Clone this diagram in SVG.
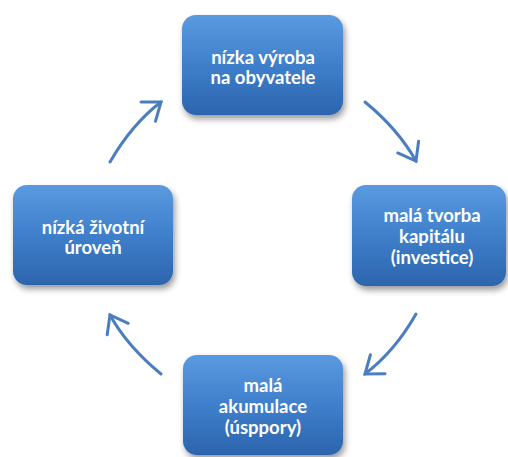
<svg xmlns="http://www.w3.org/2000/svg" width="508" height="457" viewBox="0 0 508 457">
<defs>
<linearGradient id="g" x1="0" y1="0" x2="0" y2="1">
<stop offset="0" stop-color="#5a9ae0"/>
<stop offset="0.5" stop-color="#3f7fcb"/>
<stop offset="1" stop-color="#2c64ad"/>
</linearGradient>
<filter id="sh" x="-20%" y="-20%" width="140%" height="150%">
<feDropShadow dx="2" dy="4" stdDeviation="3" flood-color="#000" flood-opacity="0.4"/>
</filter>
<marker id="ah" markerUnits="userSpaceOnUse" markerWidth="40" markerHeight="40" refX="0" refY="0" viewBox="-20 -20 40 40" orient="auto" overflow="visible">
<path d="M-16,-12 L0,0 L-16,12" fill="none" stroke="#4a7ebf" stroke-width="3" stroke-linecap="round" stroke-linejoin="miter"/>
</marker>
</defs>
<style>
.box{fill:url(#g);filter:url(#sh);}
.t{font-family:Lato,"Liberation Sans",sans-serif;font-weight:bold;font-size:18.5px;fill:#fff;text-anchor:middle;}
.c{fill:none;stroke:#4a7ebf;stroke-width:3;stroke-linecap:round;marker-end:url(#ah);}
</style>
<g id="connectors">
<path class="c" d="M110,162 Q132,124 161,102"/>
<path class="c" d="M365,102 Q398,129 416,161"/>
<path class="c" d="M416,314 Q395,351 365,374"/>
<path class="c" d="M161,374 Q127,346 110,315"/>
</g>
<g id="n1">
<rect class="box" x="182" y="15" width="161" height="100" rx="14"/>
<text class="t" x="263" y="64">nízka výroba</text>
<text class="t" x="263" y="84">na obyvatele</text>
</g>
<g id="n2">
<rect class="box" x="352" y="185" width="154" height="101" rx="14"/>
<text class="t" x="432" y="222">malá tvorba</text>
<text class="t" x="432" y="243">kapitálu</text>
<text class="t" x="432" y="264">(investice)</text>
</g>
<g id="n3">
<rect class="box" x="183" y="355" width="160" height="100" rx="14"/>
<text class="t" x="263" y="392">malá</text>
<text class="t" x="263" y="413">akumulace</text>
<text class="t" x="263" y="434">(úsppory)</text>
</g>
<g id="n4">
<rect class="box" x="13" y="185" width="160" height="100" rx="14"/>
<text class="t" x="93" y="234">nízká životní</text>
<text class="t" x="93" y="254">úroveň</text>
</g>
</svg>
